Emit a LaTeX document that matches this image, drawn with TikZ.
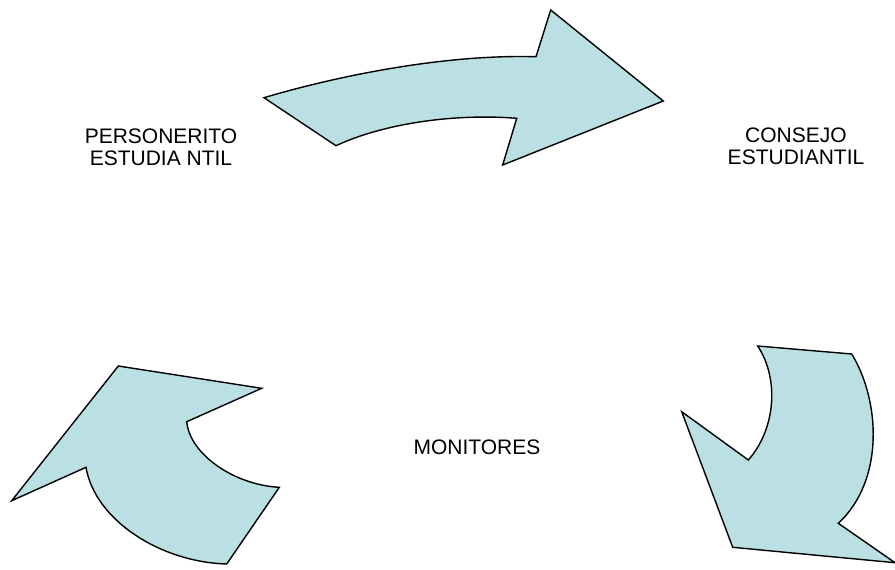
\documentclass[tikz,border=0pt]{standalone}
\usepackage{fontspec}
\setmainfont{Liberation Sans}
\definecolor{arrowfill}{RGB}{187,224,227}
\begin{document}
\begin{tikzpicture}[x=1pt,y=-1pt,
  bigarrow/.style={fill=arrowfill,draw=black,line width=1.4pt,line join=miter},
  label/.style={font=\fontsize{21}{22}\selectfont,align=center,inner sep=0pt}]
\useasboundingbox (0,0) rectangle (895,570);
% top arrow
\draw[bigarrow] (264,97.7) -- (336,145.7)
  .. controls (380,125) and (450,113) .. (516.7,118.3)
  -- (502.7,165) -- (663.3,101) -- (550.7,10) -- (536,56.7)
  .. controls (440,54) and (330,78) .. cycle;
% bottom-right arrow
\draw[bigarrow] (757.7,346) -- (851.7,354)
  .. controls (880,400) and (885,480) .. (838.3,523.3)
  -- (895,562.7) -- (732.7,547.3) -- (681.7,411.7) -- (748.3,460)
  .. controls (775,430) and (780,380) .. cycle;
% bottom-left arrow
\draw[bigarrow] (118.3,366) -- (261.7,388.3) -- (186.7,421.7)
  .. controls (190,455) and (235,485) .. (279.3,487.3)
  -- (226.7,564)
  .. controls (160,562) and (95,520) .. (86,467.3)
  -- (11.7,500.7) -- cycle;
% labels
\node[label] (pers) at (161,147.5) {PERSONERITO\\ESTUDIA NTIL};
\node[label] (cons) at (796,146.5) {CONSEJO\\ESTUDIANTIL};
\node[label] (mon) at (477,447) {MONITORES};
\end{tikzpicture}
\end{document}
